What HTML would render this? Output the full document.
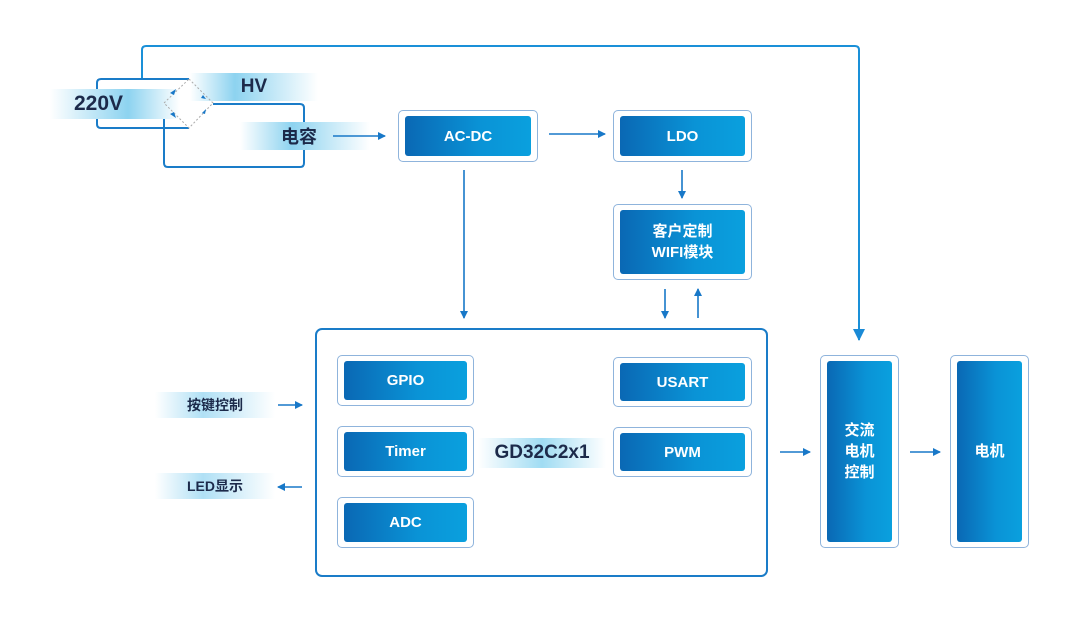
<!DOCTYPE html>
<html><head><meta charset="utf-8"><style>
body{margin:0;width:1080px;height:622px;background:#fff;position:relative;overflow:hidden;font-family:"Liberation Sans","Noto Sans CJK SC",sans-serif}
.o{position:absolute;border:1.5px solid #8fb4dc;border-radius:5px;box-sizing:border-box;background:#fff}
.i{position:absolute;left:6px;right:6px;top:5px;bottom:5px;border-radius:3px;background:linear-gradient(90deg,#0a68b4,#0a93d6 60%,#0aa0de);color:#fff;font-weight:bold;font-size:15px;display:flex;align-items:center;justify-content:center;text-align:center;line-height:21px}
.band{position:absolute;display:flex;align-items:center;justify-content:center;color:#1c2a4a;font-weight:bold;z-index:2}
svg{position:absolute;left:0;top:0}
</style></head><body>
<svg width="1080" height="622">
<defs><marker id="a" markerWidth="8" markerHeight="8" refX="7" refY="4" orient="auto" markerUnits="userSpaceOnUse"><path d="M0,0L8,4L0,8z" fill="#1878c8"/></marker>
<marker id="b" markerWidth="12" markerHeight="12" refX="11" refY="6" orient="auto" markerUnits="userSpaceOnUse"><path d="M0,0L12,6L0,12z" fill="#1a8ad6"/></marker></defs>
<g fill="none" stroke="#1a7cc8" stroke-width="2">
<path d="M142,78V50Q142,46 146,46H855Q859,46 859,50V340" stroke="#1a90d8" marker-end="url(#b)"/>
<path d="M189,79H101Q97,79 97,83V124Q97,128 101,128H189"/>
<path d="M213,104H300Q304,104 304,108V163Q304,167 300,167H168Q164,167 164,163V103"/>
</g>
<g stroke="#1878c8" stroke-width="1.6" marker-end="url(#a)">
<line x1="549" y1="134" x2="605" y2="134"/>
<line x1="682" y1="170" x2="682" y2="198"/>
<line x1="464" y1="170" x2="464" y2="318"/>
<line x1="665" y1="289" x2="665" y2="318"/>
<line x1="698" y1="318" x2="698" y2="289"/>
<line x1="278" y1="405" x2="302" y2="405"/>
<line x1="302" y1="487" x2="278" y2="487"/>
<line x1="780" y1="452" x2="810" y2="452"/>
<line x1="910" y1="452" x2="940" y2="452"/>
</g>
<rect x="316" y="329" width="451" height="247" rx="6" fill="none" stroke="#1a7cc8" stroke-width="2"/>
</svg>
<div class="band" style="left:50px;top:89px;width:130px;height:30px;background:linear-gradient(90deg,#fff,#8dd3f0 60%,#fff);font-size:21px;justify-content:flex-start;padding-left:24px;box-sizing:border-box">220V</div>
<div class="band" style="left:190px;top:73px;width:128px;height:28px;background:linear-gradient(90deg,#fff,#8dd3f0 35%,#fff);font-size:19px">HV</div>
<div class="band" style="left:240px;top:122px;width:130px;height:28px;background:linear-gradient(90deg,#fff,#8dd3f0 40%,#fff);font-size:18px;padding-right:12px;box-sizing:border-box">电容</div>
<div class="band" style="left:478px;top:438px;width:128px;height:30px;background:linear-gradient(90deg,#fff,#a0dcf3 50%,#fff);font-size:19px">GD32C2x1</div>
<div class="band" style="left:155px;top:392px;width:120px;height:26px;background:linear-gradient(90deg,#fff,#b0e0f5 40%,#fff);font-size:14px">按键控制</div>
<div class="band" style="left:155px;top:473px;width:120px;height:26px;background:linear-gradient(90deg,#fff,#b0e0f5 40%,#fff);font-size:14px">LED显示</div>
<svg width="1080" height="622" style="z-index:3">
<path d="M189,79L213,103L189,128L164,103Z" fill="none" stroke="#aaa" stroke-dasharray="2,2"/>
<g fill="#1878c8"><path d="M176,89l-6,4 4,2z"/><path d="M203,95l3,4-5,-1z"/><path d="M176,118l-6,-4 4,-2z"/><path d="M202,113l4,-4-1,5z"/></g>
<line x1="333" y1="136" x2="385" y2="136" stroke="#1878c8" stroke-width="1.6" marker-end="url(#a)"/>
</svg>
<div class="o" style="left:398px;top:110px;width:140px;height:52px"><div class="i">AC-DC</div></div>
<div class="o" style="left:613px;top:110px;width:139px;height:52px"><div class="i">LDO</div></div>
<div class="o" style="left:613px;top:204px;width:139px;height:76px"><div class="i">客户定制<br>WIFI模块</div></div>
<div class="o" style="left:337px;top:355px;width:137px;height:51px"><div class="i">GPIO</div></div>
<div class="o" style="left:337px;top:426px;width:137px;height:51px"><div class="i">Timer</div></div>
<div class="o" style="left:337px;top:497px;width:137px;height:51px"><div class="i">ADC</div></div>
<div class="o" style="left:613px;top:357px;width:139px;height:50px"><div class="i">USART</div></div>
<div class="o" style="left:613px;top:427px;width:139px;height:50px"><div class="i">PWM</div></div>
<div class="o" style="left:820px;top:355px;width:79px;height:193px"><div class="i">交流<br>电机<br>控制</div></div>
<div class="o" style="left:950px;top:355px;width:79px;height:193px"><div class="i">电机</div></div>
</body></html>
